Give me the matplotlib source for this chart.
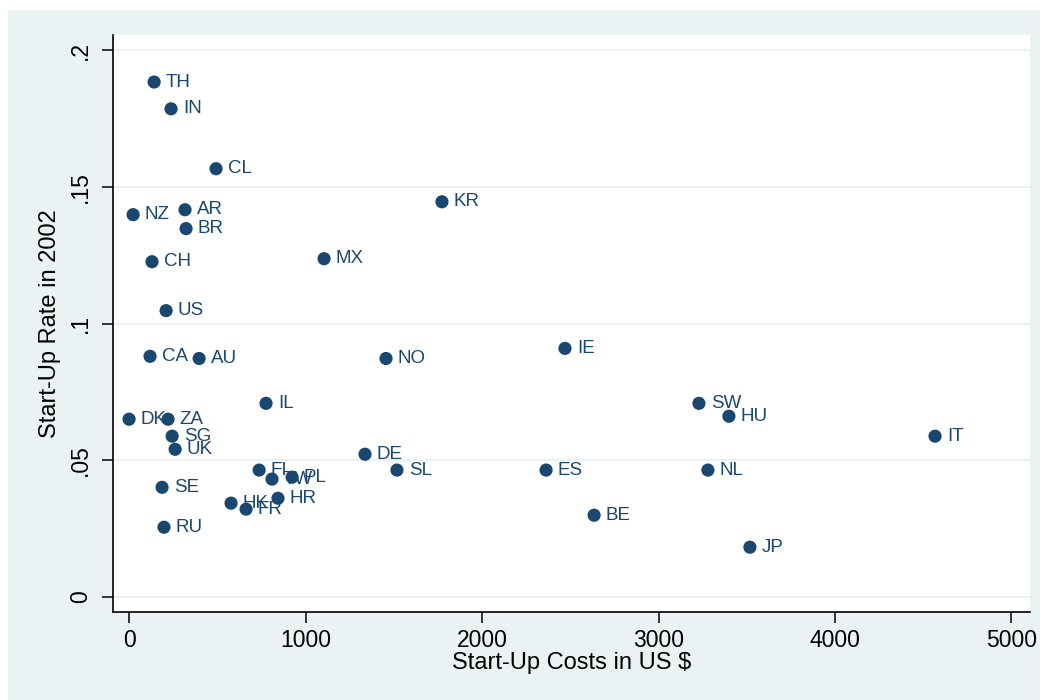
import matplotlib.pyplot as plt
from matplotlib.patches import Rectangle

# start-up costs (US $) and start-up rates by country
countries = ["TH", "IN", "CL", "KR", "NZ", "AR", "BR", "MX", "CH", "US",
             "CA", "AU", "NO", "IE", "IL", "SW", "HU", "IT", "DK", "ZA",
             "SG", "UK", "DE", "SE", "SL", "ES", "NL", "FI", "TW", "PL",
             "HK", "FR", "HR", "BE", "JP", "RU"]
costs = [142, 238, 493, 1773, 23, 317, 323, 1105, 130, 210,
         119, 397, 1456, 2470, 776, 3229, 3399, 4567, 0, 221,
         244, 261, 1337, 187, 1518, 2363, 3280, 737, 810, 924,
         578, 663, 844, 2635, 3518, 198]
rates = [0.1883, 0.1785, 0.1566, 0.1445, 0.1398, 0.1416, 0.1347, 0.1237, 0.1226, 0.1047,
         0.0880, 0.0872, 0.0872, 0.0909, 0.0708, 0.0708, 0.0661, 0.0588, 0.0650, 0.0650,
         0.0588, 0.0540, 0.0522, 0.0401, 0.0464, 0.0464, 0.0464, 0.0464, 0.0431, 0.0438,
         0.0343, 0.0321, 0.0361, 0.0299, 0.0182, 0.0255]

x_ticks = [0, 1000, 2000, 3000, 4000, 5000]
y_ticks = [0, 0.05, 0.1, 0.15, 0.2]
y_tick_labels = ["0", ".05", ".1", ".15", ".2"]

navy = "#1a476f"
bg = "#eaf2f3"

plt.rcParams['font.family'] = ['Liberation Sans', 'DejaVu Sans']

fig = plt.figure(figsize=(10.46, 7.0), dpi=100)
fig.patch.set_facecolor("white")
fig.patches.append(Rectangle((8 / 1046, 0), 1 - 14 / 1046, 1 - 10 / 700,
                             transform=fig.transFigure, facecolor=bg,
                             edgecolor="none", zorder=-10))

ax = fig.add_axes([113 / 1046, 1 - 612 / 700, (1030 - 113) / 1046, (612 - 35) / 700])
ax.set_facecolor("white")

ax.scatter(costs, rates, s=90, color=navy, edgecolors="none", zorder=3)
for c, x, y in zip(countries, costs, rates):
    ax.annotate(c, (x, y), xytext=(8.5, 0), textcoords="offset points",
                ha="left", va="center", fontsize=13.5, color=navy, zorder=4)

ax.set_xlim(-91, 5105)
ax.set_ylim(-0.0055, 0.2055)
ax.set_xticks(x_ticks)
ax.set_yticks(y_ticks)
ax.set_yticklabels(y_tick_labels, rotation=90, va="center")

ax.yaxis.grid(True, color=bg, linewidth=1.5)
ax.set_axisbelow(True)
for side in ["top", "right"]:
    ax.spines[side].set_visible(False)
for side in ["left", "bottom"]:
    ax.spines[side].set_linewidth(1.2)
ax.tick_params(axis="both", direction="out", length=8, width=1.1, labelsize=16.5)
ax.tick_params(axis="x", pad=4)
ax.tick_params(axis="y", pad=7)

ax.set_xlabel("Start-Up Costs in US $", fontsize=17, labelpad=0)
ax.set_ylabel("Start-Up Rate in 2002", fontsize=17, labelpad=6)

fig.savefig("out.png", dpi=100, facecolor=fig.get_facecolor())
